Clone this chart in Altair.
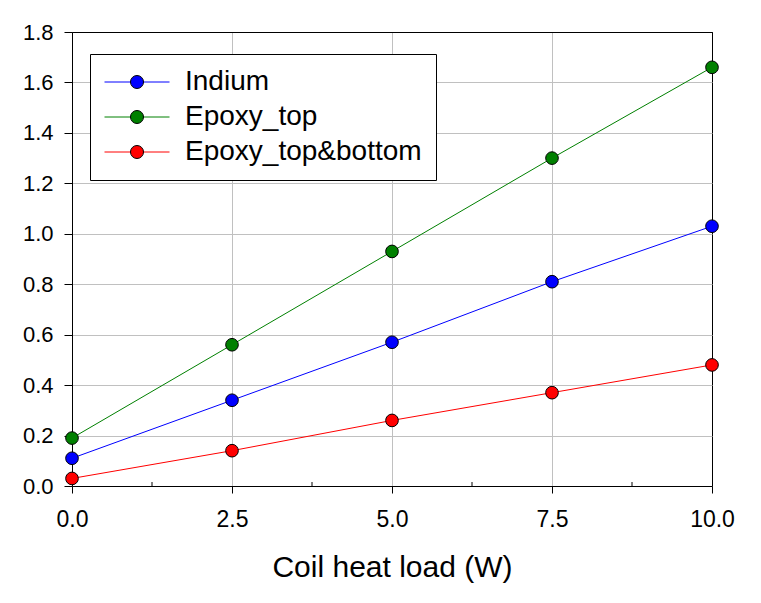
import altair as alt
import pandas as pd

# ---- data ----
x_vals = [0.0, 2.5, 5.0, 7.5, 10.0]
indium = [0.11, 0.34, 0.57, 0.81, 1.03]
epoxy_top = [0.19, 0.56, 0.93, 1.30, 1.66]
epoxy_top_bottom = [0.03, 0.14, 0.26, 0.37, 0.48]

series_names = ["Indium", "Epoxy_top", "Epoxy_top&bottom"]
series_colors = ["#0000ff", "#008000", "#ff0000"]
x_major = [0.0, 2.5, 5.0, 7.5, 10.0]
x_minor = [1.25, 3.75, 6.25, 8.75]
y_ticks = [0.0, 0.2, 0.4, 0.6, 0.8, 1.0, 1.2, 1.4, 1.6, 1.8]

rows = []
for name, vals in zip(series_names, [indium, epoxy_top, epoxy_top_bottom]):
    for x, y in zip(x_vals, vals):
        rows.append({"load": x, "temp": y, "Series": name, "SeriesPt": name})
df = pd.DataFrame(rows)
minor_df = pd.DataFrame({"load": x_minor})

FONT = "Liberation Sans, Arial, sans-serif"
W, H = 640, 454

x_scale = alt.Scale(domain=[0, 10], nice=False, zero=False)
y_scale = alt.Scale(domain=[0, 1.8], nice=False)

x_axis = alt.Axis(
    values=x_major, format=".1f", title="Coil heat load (W)",
    labelFont=FONT, labelFontSize=23, labelColor="black", labelPadding=15,
    titleFont=FONT, titleFontSize=30, titleFontWeight="normal", titleColor="black",
    titlePadding=21, tickSize=7, tickColor="black", domainColor="black",
    grid=True, gridColor={"condition": {"test": "datum.value >= 9.99", "value": "black"}, "value": "#c0c0c0"},
    labelFlush=False,
)
y_axis = alt.Axis(
    values=y_ticks, format=".1f", title=None,
    labelFont=FONT, labelFontSize=22, labelColor="black", labelPadding=11,
    tickSize=8, tickColor="black", domainColor="black",
    grid=True, gridColor={"condition": {"test": "datum.value >= 1.79", "value": "black"}, "value": "#c0c0c0"},
    labelFlush=False,
)

common_legend = dict(
    orient="none", legendX=18, legendY=22, padding=14, title=None,
    labelFont=FONT, labelFontSize=28, labelOffset=34, labelLimit=500,
    symbolSize=169, symbolOffset=19, rowPadding=7, symbolStrokeWidth=1,
)

lines = alt.Chart(df).mark_line(strokeWidth=1).encode(
    x=alt.X("load:Q", scale=x_scale, axis=x_axis),
    y=alt.Y("temp:Q", scale=y_scale, axis=y_axis),
    stroke=alt.Stroke(
        "Series:N", sort=series_names,
        scale=alt.Scale(domain=series_names, range=series_colors),
        legend=alt.Legend(
            symbolType="M-5,0L5,0", labelColor="black",
            strokeColor="black", fillColor="white", cornerRadius=0, zindex=1,
            **common_legend,
        ),
    ),
    detail="Series:N",
)

points = alt.Chart(df).mark_circle(size=160, stroke="black", strokeWidth=1, opacity=1).encode(
    x=alt.X("load:Q", scale=x_scale),
    y=alt.Y("temp:Q", scale=y_scale),
    fill=alt.Fill(
        "SeriesPt:N", sort=series_names,
        scale=alt.Scale(range=series_colors),
        legend=alt.Legend(
            symbolType="circle", symbolStrokeColor="black", labelColor="transparent",
            zindex=2, **common_legend,
        ),
    ),
)

minor_ticks = alt.Chart(minor_df).mark_rule(color="black", strokeWidth=1).encode(
    x=alt.X("load:Q", scale=x_scale),
    y=alt.value(H),
    y2=alt.value(H - 4),
)

chart = alt.layer(lines, minor_ticks, points).resolve_scale(
    stroke="independent", fill="independent"
).properties(
    width=W, height=H,
    autosize=alt.AutoSizeParams(type="none"),
    padding={"left": 64, "top": 24, "right": 41, "bottom": 109},
    background="white",
).configure_view(
    stroke="black", strokeWidth=1
)

chart.save("out.html", embed_options={"renderer": "svg", "actions": False})
